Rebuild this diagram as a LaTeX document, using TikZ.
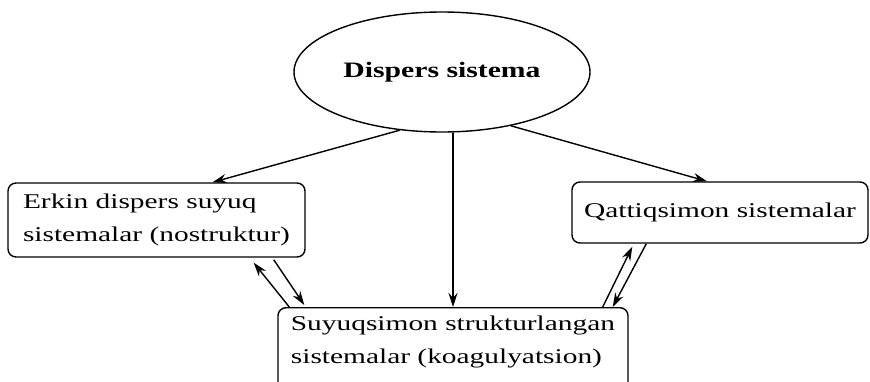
\documentclass[tikz,border=0pt]{standalone}
\usepackage{fontspec}
\newfontfamily\boxfont{Liberation Serif}[FakeStretch=1.4]
\newfontfamily\titlefont{Liberation Serif}[FakeStretch=1.35]
\usetikzlibrary{arrows.meta,positioning,shapes.geometric,calc}
\tikzset{
  rootnode/.style={
    ellipse, draw=black, line width=1.4pt,
    minimum width=296pt, minimum height=120pt, inner sep=0pt,
    font=\titlefont\bfseries\fontsize{22}{26}\selectfont
  },
  sysbox/.style={
    rectangle, rounded corners=8pt, draw=black, line width=1.4pt,
    align=left, inner xsep=10pt, inner ysep=8pt,
    font=\boxfont\fontsize{21}{33}\selectfont
  },
  flow/.style={-{Stealth[length=14pt,width=9pt]}, line width=1.4pt, color=black},
}
\begin{document}
\begin{tikzpicture}[x=1pt,y=-1pt]
  \useasboundingbox (0,0) rectangle (870,381);

  % Root
  \node[rootnode] (disp) at (442,72) {Dispers sistema};

  % Systems
  \node[sysbox, minimum width=297pt, minimum height=74pt] (erkin) at (156.5,220)
        {Erkin dispers suyuq\\sistemalar (nostruktur)};
  \node[sysbox, minimum width=296pt, minimum height=61pt] (qattiq) at (720,212.5)
        {Qattiqsimon sistemalar};
  \node[sysbox, minimum width=350pt, anchor=north, text depth=70pt] (suyuq) at (453,307)
        {Suyuqsimon strukturlangan\\sistemalar (koagulyatsion)};

  % Root to systems
  \draw[flow] (disp.-126) -- ($(erkin.north)+(56,0)$);
  \draw[flow] (disp.-38) -- ($(qattiq.north)+(-13,0)$);
  \draw[flow] (suyuq.north |- disp.south) -- (suyuq.north);

  % Transitions
  \draw[flow] ($(suyuq.north west)+(12,0)$) -- ($(erkin.south east)+(-52,5)$);
  \draw[flow] ($(erkin.south east)+(-32,2)$) -- ($(suyuq.north west)+(27,-2)$);
  \draw[flow] ($(suyuq.north east)+(-26,0)$) -- ($(qattiq.south west)+(61,3)$);
  \draw[flow] ($(qattiq.south west)+(75,0)$) -- ($(suyuq.north east)+(-16,0)$);

\end{tikzpicture}
\end{document}
